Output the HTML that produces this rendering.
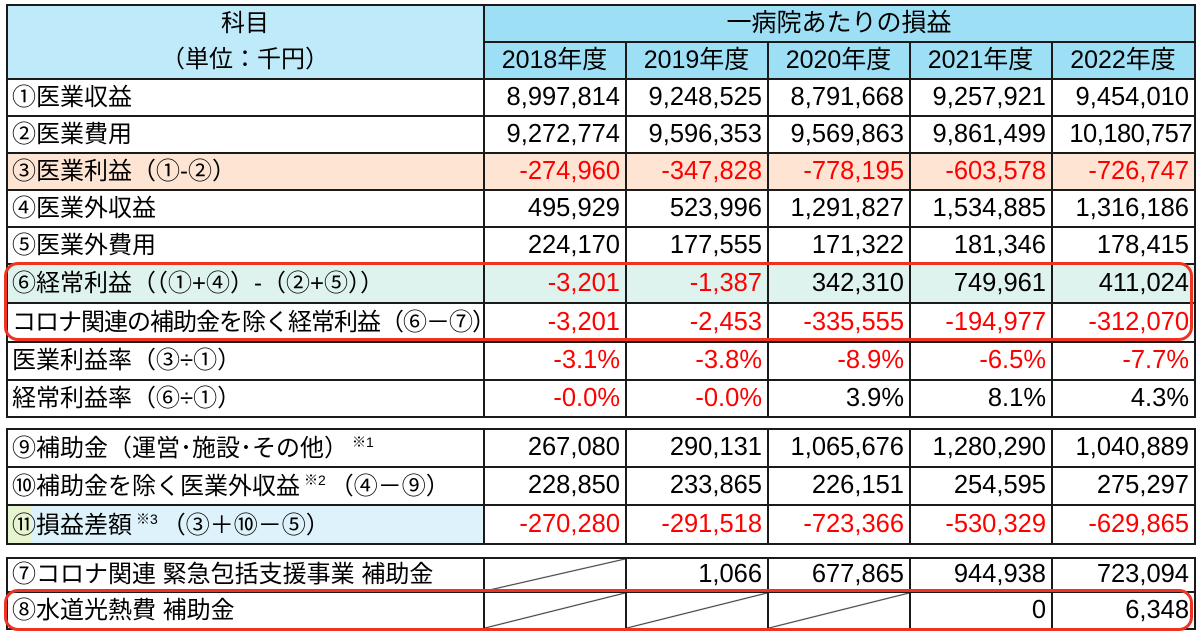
<!DOCTYPE html>
<html><head><meta charset="utf-8">
<style>
body{margin:0;width:1196px;height:634px;background:#fff;position:relative;overflow:hidden;font-family:"Liberation Sans","Noto Sans CJK JP",sans-serif;}
table{position:absolute;left:6px;border-collapse:collapse;table-layout:fixed;width:1188px;}
td{border:2px solid #1a1a1a;padding:0 5px 0 4px;font-size:24px;line-height:1;white-space:nowrap;overflow:hidden;color:#000;}
td.n{text-align:right;font-size:25.5px;}
.r{color:#ff0000;}
.h1{background:#bfeaf9;text-align:center;}
.h2{background:#9ddff5;text-align:center;font-size:25px;}
.o{background:#fde4d3;}
.g{background:#dff3ee;}
.b{background:#ddf2fb;}
.d{background:linear-gradient(to bottom right,transparent calc(50% - 1px),#222 50%,transparent calc(50% + 1px));}
sup{font-size:14px;vertical-align:9px;margin:0 4px;}
.red{position:absolute;border:3px solid #ee3322;border-radius:14px;box-sizing:border-box;}
</style></head><body>
<table style="top:4px">
<colgroup><col style="width:477px"><col style="width:142px"><col style="width:142px"><col style="width:142px"><col style="width:142px"><col style="width:143px"></colgroup>
<tr style="height:36px"><td class="h1" rowspan="2" style="line-height:36px">科目<br>（単位：千円）</td><td class="h2" colspan="5">一病院あたりの損益</td></tr>
<tr style="height:36px"><td class="h2">2018年度</td><td class="h2">2019年度</td><td class="h2">2020年度</td><td class="h2">2021年度</td><td class="h2">2022年度</td></tr>
<tr style="height:37px"><td>①医業収益</td><td class="n">8,997,814</td><td class="n">9,248,525</td><td class="n">8,791,668</td><td class="n">9,257,921</td><td class="n">9,454,010</td></tr>
<tr style="height:37px"><td>②医業費用</td><td class="n">9,272,774</td><td class="n">9,596,353</td><td class="n">9,569,863</td><td class="n">9,861,499</td><td class="n" style="padding-right:2px;letter-spacing:-0.5px">10,180,757</td></tr>
<tr style="height:37px" class="o"><td>③医業利益（①-②）</td><td class="n r">-274,960</td><td class="n r">-347,828</td><td class="n r">-778,195</td><td class="n r">-603,578</td><td class="n r">-726,747</td></tr>
<tr style="height:37px"><td>④医業外収益</td><td class="n">495,929</td><td class="n">523,996</td><td class="n">1,291,827</td><td class="n">1,534,885</td><td class="n">1,316,186</td></tr>
<tr style="height:37px"><td>⑤医業外費用</td><td class="n">224,170</td><td class="n">177,555</td><td class="n">171,322</td><td class="n">181,346</td><td class="n">178,415</td></tr>
<tr style="height:39px" class="g"><td>⑥経常利益（（①+④）-（②+⑤））</td><td class="n r">-3,201</td><td class="n r">-1,387</td><td class="n">342,310</td><td class="n">749,961</td><td class="n">411,024</td></tr>
<tr style="height:39px"><td style="letter-spacing:-1px">コロナ関連の補助金を除く経常利益（⑥－⑦）</td><td class="n r">-3,201</td><td class="n r">-2,453</td><td class="n r">-335,555</td><td class="n r">-194,977</td><td class="n r">-312,070</td></tr>
<tr style="height:38px"><td>医業利益率（③÷①）</td><td class="n r">-3.1%</td><td class="n r">-3.8%</td><td class="n r">-8.9%</td><td class="n r">-6.5%</td><td class="n r">-7.7%</td></tr>
<tr style="height:37px"><td>経常利益率（⑥÷①）</td><td class="n r">-0.0%</td><td class="n r">-0.0%</td><td class="n">3.9%</td><td class="n">8.1%</td><td class="n">4.3%</td></tr>
</table>
<table style="top:428px">
<colgroup><col style="width:477px"><col style="width:142px"><col style="width:142px"><col style="width:142px"><col style="width:142px"><col style="width:143px"></colgroup>
<tr style="height:38px"><td>⑨補助金（運営･施設･その他）<sup>※1</sup></td><td class="n">267,080</td><td class="n">290,131</td><td class="n">1,065,676</td><td class="n">1,280,290</td><td class="n">1,040,889</td></tr>
<tr style="height:38px"><td>⑩補助金を除く医業外収益<sup>※2</sup>（④－⑨）</td><td class="n">228,850</td><td class="n">233,865</td><td class="n">226,151</td><td class="n">254,595</td><td class="n">275,297</td></tr>
<tr style="height:39px"><td class="b" style="background:linear-gradient(to right,#e6f4d0 0,#e6f4d0 24px,#ddf2fb 24px)">⑪損益差額<sup>※3</sup>（③＋⑩－⑤）</td><td class="n r">-270,280</td><td class="n r">-291,518</td><td class="n r">-723,366</td><td class="n r">-530,329</td><td class="n r">-629,865</td></tr>
</table>
<table style="top:557px">
<colgroup><col style="width:477px"><col style="width:142px"><col style="width:142px"><col style="width:142px"><col style="width:142px"><col style="width:143px"></colgroup>
<tr style="height:34px"><td>⑦コロナ関連 緊急包括支援事業 補助金</td><td class="d"></td><td class="n">1,066</td><td class="n">677,865</td><td class="n">944,938</td><td class="n">723,094</td></tr>
<tr style="height:37px"><td>⑧水道光熱費 補助金</td><td class="d"></td><td class="d"></td><td class="d"></td><td class="n">0</td><td class="n">6,348</td></tr>
</table>
<div class="red" style="left:4px;top:262px;width:1189px;height:79px"></div>
<div class="red" style="left:4px;top:589px;width:1189px;height:42px"></div>
</body></html>
